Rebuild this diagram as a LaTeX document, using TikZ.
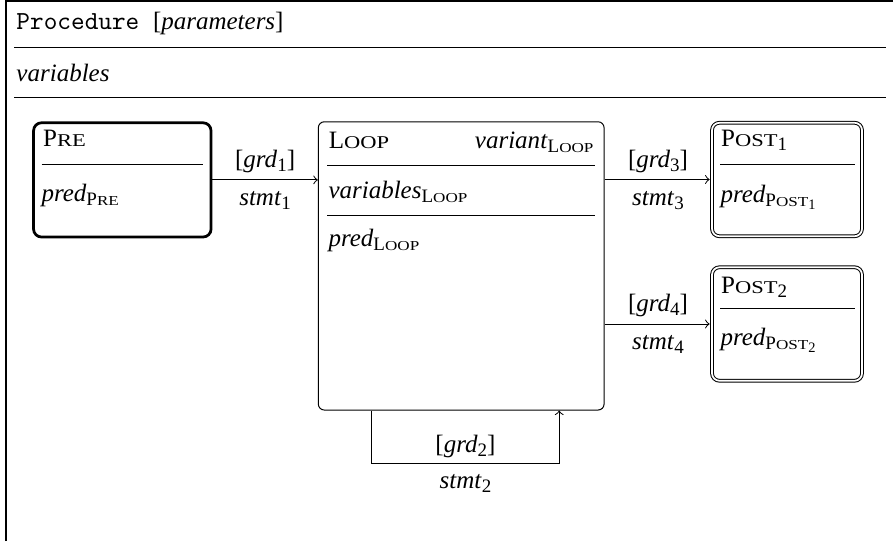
\documentclass[tikz,border=0pt]{standalone}
\usepackage{fontspec}
\setmainfont{Liberation Serif}

% fake small caps: first letter full size, the rest reduced in height
\newcommand\smc[2]{#1\scalebox{0.9}[0.72]{#2}}
% lowered, reduced subscript in text mode
\newcommand\sub[1]{\raisebox{-0.16em}{\scalebox{0.76}{#1}}}
% italic identifier with a subscript
\newcommand\var[2]{\textit{#1}\sub{#2}}

\begin{document}
\begin{tikzpicture}[x=0.4pt,y=-0.4pt,
  font=\fontsize{10}{12}\selectfont,
  txt/.style={inner sep=0pt, anchor=base west},
  frameline/.style={line width=0.6pt},
  sepline/.style={line width=0.5pt},
  prebox/.style={draw, line width=1.1pt, rounded corners=3.2pt},
  loopbox/.style={draw, line width=0.4pt, rounded corners=2.4pt},
  postbox/.style={draw, double, double distance=0.7pt, line width=0.4pt, rounded corners=3pt},
  conn/.style={->, line width=0.4pt},
  lblabove/.style={midway, anchor=base, inner sep=0pt, yshift=4.9pt},
  lblbelow/.style={midway, anchor=base, inner sep=0pt, yshift=-10.3pt}]

\useasboundingbox (0,0) rectangle (893,541);

% procedure frame and its header rows
\draw[frameline] (6,541) -- (6,1.2) -- (893,1.2);
\node[txt] (title) at (16,29) {{\ttfamily\fontsize{10.4}{12}\selectfont Procedure }[\textit{parameters}]};
\draw[sepline] (14,47.5) -- (886,47.5);
\node[txt] (vars) at (16,81) {\textit{variables}};
\draw[sepline] (14,97.5) -- (886,97.5);

% state boxes
\node[prebox, minimum width=71pt, minimum height=45.7pt] (pre) at (122.3,179.9) {};
\node[loopbox, minimum width=114.3pt, minimum height=115.3pt] (loop) at (461.2,265.9) {};
\node[postbox, minimum width=60pt, minimum height=45.4pt] (post1) at (787,179.5) {};
\node[postbox, minimum width=60pt, minimum height=45.4pt] (post2) at (787,324) {};

% PRE contents
\node[txt] (preName) at (42.7,146.7) {\smc{P}{RE}};
\draw[sepline] (41.7,164.3) -- (202.7,164.3);
\node[txt] (prePred) at (41,201) {\var{pred}{\smc{P}{RE}}};

% LOOP contents
\node[txt] (loopName) at (328.3,148.3) {\smc{L}{OOP}};
\node[inner sep=0pt, anchor=base east] (loopVariant) at (594,148.3) {\var{variant}{\smc{L}{OOP}}};
\draw[sepline] (327,165.3) -- (595,165.3);
\node[txt] (loopVars) at (328,198.3) {\var{variables}{\smc{L}{OOP}}};
\draw[sepline] (327,215.3) -- (595,215.3);
\node[txt] (loopPred) at (328,246.7) {\var{pred}{\smc{L}{OOP}}};

% POST1 contents
\node[txt] (post1Name) at (720.7,146.7) {\smc{P}{OST}\sub{1}};
\draw[sepline] (720,164.3) -- (855,164.3);
\node[txt] (post1Pred) at (720,202) {\var{pred}{\smc{P}{OST}\sub{1}}};

% POST2 contents
\node[txt] (post2Name) at (720.7,293.3) {\smc{P}{OST}\sub{2}};
\draw[sepline] (720,308.3) -- (855,308.3);
\node[txt] (post2Pred) at (720,345.5) {\var{pred}{\smc{P}{OST}\sub{2}}};

% transitions
\draw[conn] (pre.east) -- (pre.east -| loop.west)
  node[lblabove] {[\var{grd}{1}]}
  node[lblbelow] {\var{stmt}{1}};
\draw[conn, shorten >=0.75pt] (post1.west -| loop.east) -- (post1.west)
  node[lblabove] {[\var{grd}{3}]}
  node[lblbelow] {\var{stmt}{3}};
\draw[conn, shorten >=0.75pt] (post2.west -| loop.east) -- (post2.west)
  node[lblabove] {[\var{grd}{4}]}
  node[lblbelow] {\var{stmt}{4}};

% loop back edge
\draw[conn] ([xshift=-35.8pt]loop.south) -- ++(0,53.3) -| ([xshift=39.2pt]loop.south)
  node[lblabove, pos=0.25, yshift=-0.2pt] {[\var{grd}{2}]}
  node[lblbelow, pos=0.25, yshift=0.3pt] {\var{stmt}{2}};
\end{tikzpicture}
\end{document}
